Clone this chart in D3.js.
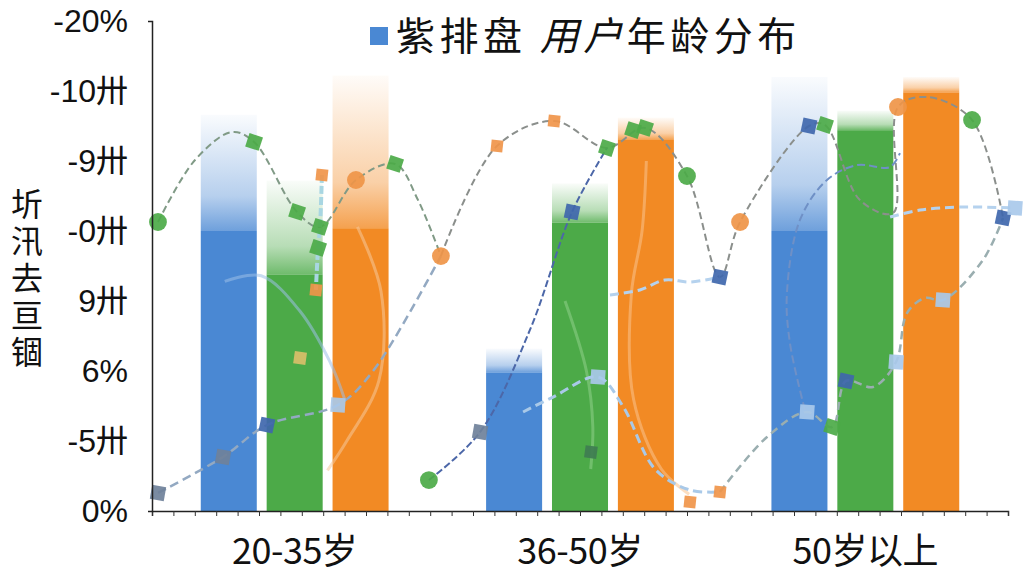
<!DOCTYPE html>
<html>
<head>
<meta charset="utf-8">
<script src="https://cdn.jsdelivr.net/npm/d3@7"></script>
<style>
  body { margin: 0; background: #fff; }
  svg { display: block; }
</style>
</head>
<body>
<div id="chart"></div>
<script>
// categories and tick labels
const groups = ["20-35岁", "36-50岁", "50岁以上"];
const seriesNames = ["blue", "green", "orange"];
const yTickLabels = ["0%", "-5卅", "6%", "9卅", "-0卅", "-9卅", "-10卅", "-20%"];
const yTitle = "圻汛去亘锢";

// bar values (solid part) and faded tops
const blueValues = [20.0, 9.9, 20.0];
const greenValues = [16.9, 20.6, 27.2];
const orangeValues = [20.2, 26.5, 29.9];
const blueFade = [28.3, 11.6, 31.0];
const greenFade = [23.6, 23.4, 28.6];
const orangeFade = [31.1, 28.1, 31.0];

// dashed curves, [x, y] in axis units
const lineA = [[0.28,20.64],[2.01,25.07],[3.74,27.07],[4.77,26.36],[6.78,21.36],[7.85,20.29],[9.53,23.64],[11.36,24.79],[12.43,22.21],[13.5,18.21]];
const lineB = [[0.28,1.29],[3.32,3.86],[5.37,6.14],[8.69,7.57],[10.33,10.0],[13.5,18.21]];
const lineC = [[13.5,18.21],[16.12,26.07],[18.79,27.86],[21.26,25.93],[23.04,27.36],[25.0,23.93],[26.54,16.71],[27.48,20.64],[30.7,27.5],[31.45,27.57],[33.08,22.21],[34.63,21.29],[34.86,28.86],[36.21,29.57],[38.32,27.93],[39.77,20.93]];
const lineD = [[12.94,2.21],[15.33,5.64],[17.66,12.93],[19.63,21.36],[21.26,25.93]];
const lineE = [[17.34,7.07],[18.74,8.14],[20.84,9.57],[22.0,7.5],[23.5,3.0],[25.14,1.5],[26.54,1.36]];
const lineF = [[26.54,1.36],[28.74,5.29],[30.61,7.07],[31.78,6.0],[32.43,9.29],[33.69,8.86],[34.77,10.64],[35.28,14.14],[36.12,15.21],[36.96,15.07],[38.83,17.93],[39.77,20.93]];
const lineG = [[30.51,7.21],[29.81,12.0],[29.67,15.57],[30.28,20.79],[31.54,23.64],[32.94,24.71],[34.49,24.57],[34.95,25.57]];
const lineH1 = [[21.4,15.43],[22.8,15.79],[23.97,16.5],[25.14,16.36],[26.54,16.71]];
const lineH2 = [[34.49,21.0],[35.89,21.5],[37.76,21.71],[40.33,21.64]];
const lineI = [[7.94,24.0],[7.85,20.29],[7.76,18.79],[7.66,15.79]];
// faint wide traces inside the bars
const faintOrange1 = [[9.6,20.3],[10.7,15.7],[10.6,9.3],[9.1,5.0],[8.2,2.9]];
const faintBlue1 = [[3.4,16.4],[5.1,16.8],[6.9,14.3],[8.3,10.7],[9.0,8.0]];
const faintGreen2 = [[19.3,15.0],[20.3,10.0],[20.6,6.0],[20.5,3.0]];
const faintOrange2 = [[23.1,25.0],[22.9,20.0],[22.4,15.5],[22.5,8.0],[23.8,3.0],[25.1,1.2]];

// markers, [x, y] in axis units
const greenCircles = [[0.28,20.64],[25.0,23.93],[38.32,27.93],[12.94,2.21]];
const greenSquares = [[4.77,26.36],[6.78,21.36],[7.85,20.29],[7.76,18.79],[11.36,24.79],[21.26,25.93],[22.48,27.21],[23.04,27.36],[31.45,27.57],[31.78,6.0]];
const orangeSquares = [[7.94,24.0],[7.66,15.79],[16.12,26.07],[18.79,27.86],[26.54,1.36],[25.14,0.64]];
const orangeCircles = [[13.5,18.21],[27.48,20.64],[9.53,23.64],[34.86,28.86]];
const darkBlueMarks = [[26.54,16.71],[30.7,27.5],[19.63,21.36],[5.37,6.14],[32.43,9.29],[39.77,20.93]];
const grayBlueSquares = [[3.32,3.86],[15.33,5.64],[0.28,1.29]];
const lightBlueSquares = [[8.69,7.57],[20.84,9.57],[34.77,10.64],[36.96,15.07],[30.61,7.07],[40.33,21.64]];
const tanSquares = [[6.92,10.93]];
const darkGreenSquares = [[20.51,4.21]];

const colors = { blue: "#4a88d3", green: "#4caa48", orange: "#f28a24" };

const width = 1024, height = 576;
const svg = d3.select("#chart").append("svg")
    .attr("width", width)
    .attr("height", height);

const x = d3.scaleLinear().domain([0, 40]).range([152, 1008]);
const y = d3.scaleLinear().domain([0, 35]).range([511, 21]);
const xBand = d3.scaleBand().domain(groups).range([152, 1008]);
const xSub = d3.scaleBand().domain(seriesNames).range([0, xBand.bandwidth()])
    .paddingInner(0.15).paddingOuter(0.74);

// gradients for the faded bar tops
const defs = svg.append("defs");
seriesNames.forEach(s => {
    const g = defs.append("linearGradient")
        .attr("id", "fade-" + s)
        .attr("x1", 0).attr("y1", 1).attr("x2", 0).attr("y2", 0);
    g.append("stop").attr("offset", "0%").attr("stop-color", colors[s]).attr("stop-opacity", 0.8);
    g.append("stop").attr("offset", "30%").attr("stop-color", colors[s]).attr("stop-opacity", 0.4);
    g.append("stop").attr("offset", "100%").attr("stop-color", colors[s]).attr("stop-opacity", 0.03);
});

const solid = { blue: blueValues, green: greenValues, orange: orangeValues };
const fade = { blue: blueFade, green: greenFade, orange: orangeFade };

// bars
groups.forEach((grp, gi) => {
    const gEl = svg.append("g").attr("transform", "translate(" + xBand(grp) + ",0)");
    seriesNames.forEach(s => {
        gEl.append("rect")
            .attr("x", xSub(s))
            .attr("width", xSub.bandwidth())
            .attr("y", y(fade[s][gi]))
            .attr("height", y(solid[s][gi]) - y(fade[s][gi]))
            .attr("fill", "url(#fade-" + s + ")");
        gEl.append("rect")
            .attr("x", xSub(s))
            .attr("width", xSub.bandwidth())
            .attr("y", y(solid[s][gi]))
            .attr("height", y(0) - y(solid[s][gi]))
            .attr("fill", colors[s]);
    });
});

const curve = d3.line().x(d => x(d[0])).y(d => y(d[1])).curve(d3.curveCatmullRom.alpha(0.5));

// faint traces
[[faintOrange1, "#f6c89a"], [faintBlue1, "#9cc0e8"], [faintGreen2, "#8fd08a"], [faintOrange2, "#f9c28e"]].forEach(([pts, c]) => {
    svg.append("path").attr("d", curve(pts))
        .attr("fill", "none").attr("stroke", c)
        .attr("stroke-width", 3).attr("opacity", 0.55);
});

// dashed curves
const lineStyles = [
    [lineA, "#809a86", 2, "7,4"],
    [lineB, "#93a9c2", 2.5, "9,5"],
    [lineC, "#8b8f8c", 2, "7,4"],
    [lineD, "#4c67a8", 2, "7,3"],
    [lineE, "#a9c9e8", 3, "9,5"],
    [lineF, "#9aaeb0", 2.5, "8,5"],
    [lineG, "#6f90c6", 2, "8,4"],
    [lineH1, "#b5d2ee", 3, "9,5"],
    [lineH2, "#b5d2ee", 3, "9,5"],
    [lineI, "#a8d6e2", 4, "8,3"]
];
lineStyles.forEach(([pts, c, w, dash]) => {
    svg.append("path").attr("d", curve(pts))
        .attr("fill", "none").attr("stroke", c)
        .attr("stroke-width", w).attr("stroke-dasharray", dash);
});

// markers
const markerSets = [
    [greenCircles, d3.symbolCircle, "#4caa48", 250, 0],
    [greenSquares, d3.symbolSquare, "#4caa48", 200, 18],
    [orangeSquares, d3.symbolSquare, "#f0954a", 140, 6],
    [orangeCircles, d3.symbolCircle, "#ef9548", 250, 0],
    [darkBlueMarks, d3.symbolSquare, "#3f67ac", 200, 12],
    [grayBlueSquares, d3.symbolSquare, "#6f819a", 200, 10],
    [lightBlueSquares, d3.symbolSquare, "#a9c9ea", 210, 4],
    [tanSquares, d3.symbolSquare, "#d9bf6a", 150, 8],
    [darkGreenSquares, d3.symbolSquare, "#3f7d52", 150, 8]
];
markerSets.forEach(([pts, type, fill, size, rot]) => {
    svg.append("g").selectAll("path")
        .data(pts).enter().append("path")
        .attr("d", d3.symbol().type(type).size(size))
        .attr("transform", d => "translate(" + x(d[0]) + "," + y(d[1]) + ") rotate(" + rot + ")")
        .attr("fill", fill)
        .attr("opacity", 0.92);
});

// x axis with minor ticks
const xAxis = svg.append("g")
    .attr("transform", "translate(0," + y(0) + ")")
    .call(d3.axisBottom(x).ticks(40).tickSize(5).tickFormat(""));
xAxis.select(".domain").attr("stroke", "#222").attr("stroke-width", 1.5);
xAxis.selectAll(".tick line").attr("stroke", "#333");

// group labels
svg.append("g").selectAll("text")
    .data(groups).enter().append("text")
    .attr("x", d => xBand(d) + xBand.bandwidth() / 2)
    .attr("y", 564)
    .attr("text-anchor", "middle")
    .style("font-family", "'Noto Sans CJK SC', 'Liberation Sans', sans-serif")
    .style("font-size", "36px")
    .style("letter-spacing", "-0.5px")
    .attr("fill", "#111")
    .text(d => d);

// y axis
const yAxis = svg.append("g")
    .attr("transform", "translate(" + x(0) + ",0)")
    .call(d3.axisLeft(y).tickValues(d3.range(0, 36, 5)).tickSizeInner(0).tickSizeOuter(4).tickPadding(24)
        .tickFormat((d, i) => yTickLabels[i]));
yAxis.select(".domain").attr("stroke", "#222").attr("stroke-width", 1.5);
yAxis.selectAll(".tick text")
    .style("font-family", "'Liberation Sans', 'Noto Sans CJK SC', sans-serif")
    .style("font-size", "32px")
    .attr("fill", "#111");

// y title, upright stacked characters
svg.append("text")
    .attr("x", 27)
    .attr("y", 188)
    .style("writing-mode", "vertical-rl")
    .style("text-orientation", "upright")
    .style("font-family", "'Noto Sans CJK SC', sans-serif")
    .style("font-size", "32px")
    .style("letter-spacing", "5px")
    .attr("fill", "#111")
    .text(yTitle);

// title with legend swatch
svg.append("rect")
    .attr("x", 370).attr("y", 27)
    .attr("width", 18).attr("height", 18)
    .attr("fill", colors.blue);
const t = svg.append("text")
    .attr("x", 396).attr("y", 50)
    .style("font-family", "'Noto Sans CJK SC', sans-serif")
    .style("font-size", "39px")
    .style("letter-spacing", "4.5px")
    .attr("fill", "#111");
t.append("tspan").text("紫排盘 ");
t.append("tspan").style("font-style", "italic").text("用户");
t.append("tspan").text("年龄分布");
</script>
</body>
</html>
